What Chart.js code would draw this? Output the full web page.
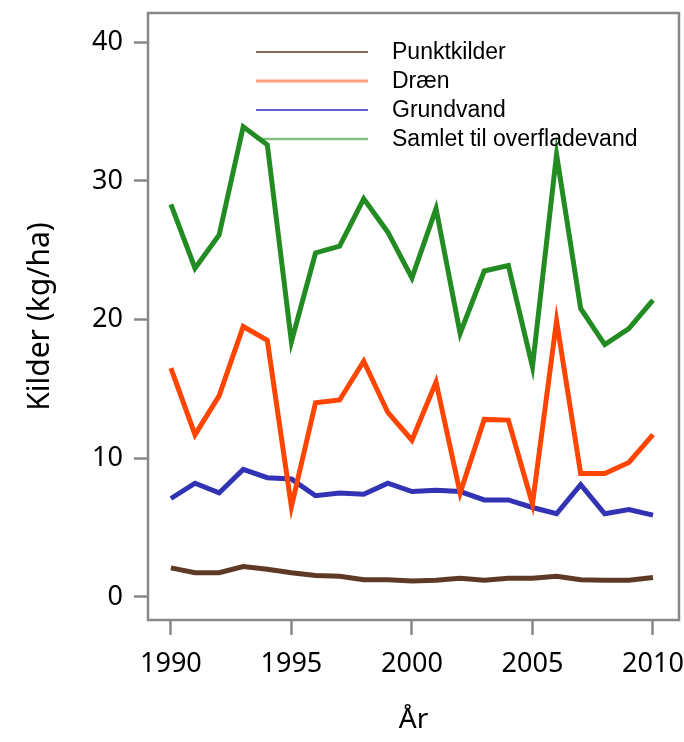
<!DOCTYPE html>
<html>
<head>
<meta charset="utf-8">
<script src="https://cdn.jsdelivr.net/npm/chart.js@4/dist/chart.umd.min.js"></script>
<style>
  html, body { margin: 0; padding: 0; background: #fff; }
  #wrap { width: 684px; height: 742px; }
</style>
</head>
<body>
<div id="wrap"><canvas id="c" width="684" height="742"></canvas></div>
<script>
// data (kg/ha per year)
const years = [1990,1991,1992,1993,1994,1995,1996,1997,1998,1999,2000,2001,2002,2003,2004,2005,2006,2007,2008,2009,2010];
const punktkilder = [2.1,1.75,1.75,2.2,2.0,1.75,1.55,1.5,1.25,1.25,1.15,1.2,1.35,1.2,1.35,1.35,1.5,1.25,1.2,1.2,1.4];
const draen = [16.5,11.7,14.5,19.5,18.5,6.5,14.0,14.2,17.0,13.3,11.3,15.5,7.5,12.8,12.75,6.7,19.9,8.9,8.9,9.7,11.7];
const grundvand = [7.1,8.2,7.5,9.2,8.6,8.5,7.3,7.5,7.4,8.2,7.6,7.7,7.6,7.0,7.0,6.45,6.0,8.1,6.0,6.3,5.9];
const samlet = [28.3,23.7,26.1,33.9,32.6,18.4,24.8,25.3,28.7,26.3,23.0,28.0,19.0,23.5,23.9,16.6,31.9,20.8,18.2,19.35,21.4];
const seriesNames = ['Punktkilder','Dræn','Grundvand','Samlet til overfladevand'];
const yTicks = [0,10,20,30,40];
const xTicks = [1990,1995,2000,2005,2010];

const lineColors = ['#5e3a26','#ff4500','#3232b4','#228b22'];
const legendColors = ['#5e3a26','rgba(255,69,0,0.5)','#2a2abe','rgba(34,139,34,0.55)'];
const legendWidths = [1.3,3,1.6,2.5];

const axisGrey = '#888888';

function pts(vals) {
  return years.map((y, i) => ({x: y, y: vals[i]}));
}

// legend drawn inside the plot, no box
const insideLegend = {
  id: 'insideLegend',
  afterDraw(chart) {
    const ctx = chart.ctx;
    ctx.save();
    ctx.font = '23px "Liberation Sans", Arial, sans-serif';
    ctx.textBaseline = 'middle';
    ctx.fillStyle = '#000';
    chart.data.datasets.forEach((ds, i) => {
      const y = 52 + i * 29;
      ctx.strokeStyle = legendColors[i];
      ctx.lineWidth = legendWidths[i];
      ctx.beginPath();
      ctx.moveTo(256, y);
      ctx.lineTo(368, y);
      ctx.stroke();
      ctx.fillText(ds.label, 392, y + 1);
    });
    ctx.restore();
  }
};

// grey frame around the plot area
const frame = {
  id: 'frame',
  afterDraw(chart) {
    const a = chart.chartArea;
    const ctx = chart.ctx;
    ctx.save();
    ctx.strokeStyle = axisGrey;
    ctx.lineWidth = 2.5;
    ctx.strokeRect(a.left, a.top, a.right - a.left, a.bottom - a.top);
    ctx.restore();
  }
};

const tickFont = {family: '"Noto Sans", sans-serif', size: 27};

new Chart(document.getElementById('c'), {
  type: 'line',
  data: {
    datasets: [punktkilder, draen, grundvand, samlet].map((vals, i) => ({
      label: seriesNames[i],
      data: pts(vals),
      borderColor: lineColors[i],
      borderWidth: 5,
      pointRadius: 0,
      tension: 0,
      fill: false
    }))
  },
  options: {
    responsive: false,
    animation: false,
    layout: {padding: {top: 13, right: 5, left: 0, bottom: 0}},
    plugins: {legend: {display: false}, tooltip: {enabled: false}},
    scales: {
      x: {
        type: 'linear',
        min: 1989.05,
        max: 2011.08,
        afterBuildTicks: s => { s.ticks = xTicks.map(v => ({value: v})); },
        afterFit: s => { s.height = 122; s.paddingLeft = 0; s.paddingRight = 0; },
        border: {display: false},
        grid: {drawOnChartArea: false, tickLength: 15, tickWidth: 2.5, color: axisGrey},
        ticks: {font: tickFont, color: '#000', padding: 13, maxRotation: 0, callback: v => String(v)},
        title: {display: true, text: 'År', font: {family: '"Noto Sans", sans-serif', size: 28}, color: '#000', padding: {top: 0, bottom: 5}}
      },
      y: {
        min: -1.66,
        max: 42.1,
        afterBuildTicks: s => { s.ticks = yTicks.map(v => ({value: v})); },
        afterFit: s => { s.width = 148; s.paddingTop = 0; s.paddingBottom = 0; },
        border: {display: false},
        grid: {drawOnChartArea: false, tickLength: 14, tickWidth: 2.5, color: axisGrey},
        ticks: {font: tickFont, color: '#000', padding: 11},
        title: {display: true, text: 'Kilder (kg/ha)', font: {family: '"Noto Sans", sans-serif', size: 30}, color: '#000', padding: {top: 22, bottom: 0}}
      }
    }
  },
  plugins: [frame, insideLegend]
});
</script>
</body>
</html>
